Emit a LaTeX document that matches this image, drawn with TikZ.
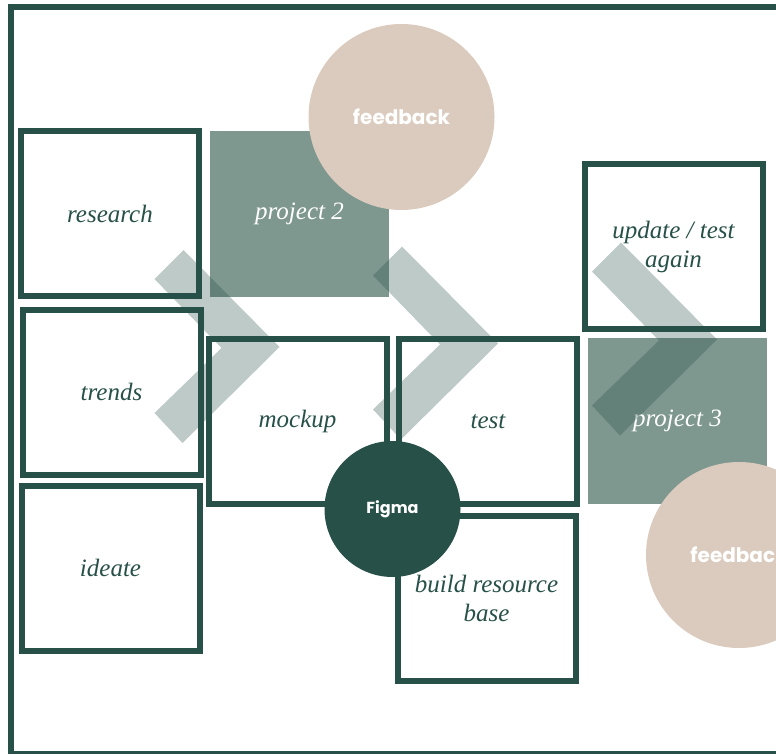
\documentclass[tikz,border=0pt]{standalone}
\usepackage{fontspec}
\setmainfont{Liberation Serif}
\newfontfamily\tagfont{Poppins}
\usepackage{tikz}
\definecolor{pine}{HTML}{275048}
\definecolor{sage}{HTML}{7E978F}
\definecolor{sand}{HTML}{DACBBE}

\begin{document}
\begin{tikzpicture}[
	    x=1pt, y=-1pt,
	    every node/.style={inner sep=0pt},
	    stepbox/.style={rectangle, draw=pine, line width=6pt, minimum width=178pt, minimum height=165pt,
	        text=pine, align=center, font=\fontsize{25}{29}\selectfont\itshape},
	    projbox/.style={rectangle, fill=sage, minimum width=179pt, minimum height=166pt,
	        text=white, font=\fontsize{25}{29}\selectfont\itshape},
	    bubble/.style={circle, fill=sand, minimum size=186pt, text=white, font=\tagfont\bfseries\fontsize{20}{24}\selectfont},
	    toolspot/.style={circle, fill=pine, minimum size=136pt, text=white, font=\tagfont\bfseries\fontsize{16}{19}\selectfont},
	    chevron/.style={fill=pine, fill opacity=0.3}
	]
		\useasboundingbox (0,0) rectangle (776,754);
		\clip (0,0) rectangle (776,754);

		% frame
		\draw[pine, line width=6pt] (11,7.5) rectangle (790,753.5);

		% filled project tiles
		\node[projbox] (proj2) at (299.5,214) {project 2};
		\node[projbox] (proj3) at (677.5,421) {project 3};

		% chevrons
		\foreach \tx/\ty in {279.5/347, 498/343.5, 717/339.5}
			\fill[chevron, shift={(\tx,\ty)}] (-96,-97) -- (0,0) -- (-97,96) -- (-125,66) -- (-58,1) -- (-125,-68) -- cycle;

		% steps
		\node[stepbox] (research) at (110,213.5) {research};
		\node[stepbox] (trends)   at (111.5,392) {trends};
		\node[stepbox] (ideate)   at (110.5,568) {ideate};
		\node[stepbox] (mockup)   at (297.5,421.5) {mockup};
		\node[stepbox] (test)     at (488,421.5) {test};
		\node[stepbox] (build)    at (486.5,598.5) {build resource\\base};
		\node[stepbox] (update)   at (673.5,246.5) {update / test\\again};

		% circles
		\node[bubble] (fb1) at (401.5,117) {feedback};
		\node[bubble] (fb2) at (739,555) {feedback};
		\node[toolspot] (figma) at (392.5,509) {Figma};
	\end{tikzpicture}
\end{document}
